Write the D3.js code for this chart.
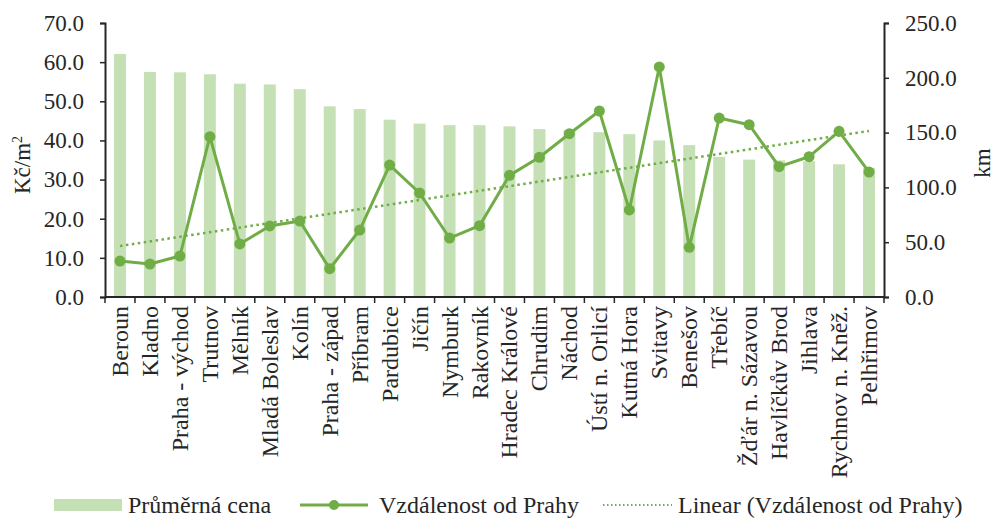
<!DOCTYPE html>
<html>
<head>
<meta charset="utf-8">
<script src="https://cdn.jsdelivr.net/npm/d3@7"></script>
<style>
  body { margin: 0; background: #fff; }
  text { font-family: "Liberation Serif", "Times New Roman", serif; fill: #262626; }
</style>
</head>
<body>
<div id="chart"></div>
<script>
var districts = ["Beroun", "Kladno", "Praha - východ", "Trutnov", "Mělník", "Mladá Boleslav",
  "Kolín", "Praha - západ", "Příbram", "Pardubice", "Jičín", "Nymburk", "Rakovník",
  "Hradec Králové", "Chrudim", "Náchod", "Ústí n. Orlicí", "Kutná Hora", "Svitavy",
  "Benešov", "Třebíč", "Žďár n. Sázavou", "Havlíčkův Brod", "Jihlava",
  "Rychnov n. Kněž.", "Pelhřimov"];

// Průměrná cena (Kč/m2)
var price = [62.1, 57.5, 57.4, 56.9, 54.5, 54.3, 53.1, 48.7, 48.0, 45.3, 44.3, 43.9, 43.9,
  43.6, 42.9, 42.6, 42.1, 41.6, 40.0, 38.8, 35.8, 35.1, 34.9, 34.7, 33.9, 33.0];

// Vzdálenost od Prahy (km)
var distance = [32.8, 30.1, 37.4, 146.3, 48.4, 64.8, 69.3, 25.8, 61.1, 120.4, 94.9, 53.8, 65.1,
  111.0, 127.5, 149.0, 169.7, 79.4, 209.9, 45.3, 163.3, 157.2, 118.9, 128.0, 151.2, 114.0];

var leftTicks = [0, 10, 20, 30, 40, 50, 60, 70];
var rightTicks = [0, 50, 100, 150, 200, 250];

var width = 994, height = 518;
var margin = {top: 23, right: 110, bottom: 221, left: 105};
var innerW = width - margin.left - margin.right,
    innerH = height - margin.top - margin.bottom;
var green = "#70ad47", lightGreen = "#c5e0b4", axisColor = "#262626";

var svg = d3.select("#chart").append("svg")
    .attr("width", width)
    .attr("height", height);

var g = svg.append("g")
    .attr("transform", "translate(" + margin.left + "," + margin.top + ")");

var x = d3.scaleBand().domain(districts).range([0, innerW]).paddingInner(0.6).paddingOuter(0.3);
var xc = function(d) { return x(d) + x.bandwidth() / 2; };
var yL = d3.scaleLinear().domain([0, 70]).range([innerH, 0]);
var yR = d3.scaleLinear().domain([0, 250]).range([innerH, 0]);

// bars
g.selectAll("rect.bar")
    .data(districts)
  .enter().append("rect")
    .attr("class", "bar")
    .attr("x", function(d) { return x(d); })
    .attr("width", x.bandwidth())
    .attr("y", function(d, i) { return yL(price[i]); })
    .attr("height", function(d, i) { return innerH - yL(price[i]); })
    .attr("fill", lightGreen);

// linear trend of distance
var n = distance.length;
var mx = d3.mean(d3.range(n)), my = d3.mean(distance);
var sxy = d3.sum(distance, function(v, i) { return (i - mx) * (v - my); });
var sxx = d3.sum(d3.range(n), function(i) { return (i - mx) * (i - mx); });
var slope = sxy / sxx, icpt = my - slope * mx;

g.append("line")
    .attr("x1", xc(districts[0]))
    .attr("x2", xc(districts[n - 1]))
    .attr("y1", yR(icpt))
    .attr("y2", yR(icpt + slope * (n - 1)))
    .attr("stroke", green)
    .attr("stroke-width", 2.5)
    .attr("stroke-dasharray", "2.5,3.5");

// distance line
var line = d3.line()
    .x(function(d, i) { return xc(districts[i]); })
    .y(function(d) { return yR(d); });

g.append("path")
    .datum(distance)
    .attr("fill", "none")
    .attr("stroke", green)
    .attr("stroke-width", 3)
    .attr("stroke-linejoin", "round")
    .attr("d", line);

g.selectAll("circle.pt")
    .data(distance)
  .enter().append("circle")
    .attr("class", "pt")
    .attr("cx", function(d, i) { return xc(districts[i]); })
    .attr("cy", function(d) { return yR(d); })
    .attr("r", 5.5)
    .attr("fill", green);

// axes
var axL = g.append("g")
    .call(d3.axisLeft(yL).tickValues(leftTicks).tickFormat(d3.format(".1f")).tickSize(5).tickPadding(16));
var axR = g.append("g")
    .attr("transform", "translate(" + innerW + ",0)")
    .call(d3.axisRight(yR).tickValues(rightTicks).tickFormat(d3.format(".1f")).tickSize(5).tickPadding(16));

var axB = g.append("g")
    .attr("transform", "translate(0," + innerH + ")");
axB.append("line")
    .attr("x1", 0).attr("x2", innerW)
    .attr("stroke", axisColor).attr("stroke-width", 2);
axB.selectAll("line.tk")
    .data(d3.range(n + 1))
  .enter().append("line")
    .attr("class", "tk")
    .attr("x1", function(i) { return i * x.step(); })
    .attr("x2", function(i) { return i * x.step(); })
    .attr("y1", 0).attr("y2", 6)
    .attr("stroke", axisColor).attr("stroke-width", 1.5);
axB.selectAll("text")
    .data(districts)
  .enter().append("text")
    .attr("transform", function(d) { return "translate(" + (xc(d) + 8) + ",9) rotate(-90)"; })
    .attr("text-anchor", "end")
    .style("font-size", "24px")
    .text(function(d) { return d; });

[axL, axR].forEach(function(a) {
  a.select(".domain").attr("stroke", axisColor).attr("stroke-width", 2);
  a.selectAll(".tick line").attr("stroke", axisColor).attr("stroke-width", 1.5);
  a.selectAll(".tick text").style("font-size", "23px")
      .style("font-family", "Liberation Serif, serif").attr("fill", axisColor);
});

// axis titles
var tl = svg.append("text")
    .attr("transform", "translate(30," + (margin.top + innerH / 2 + 5) + ") rotate(-90)")
    .attr("text-anchor", "middle")
    .style("font-size", "23px");
tl.append("tspan").text("Kč/m");
tl.append("tspan").attr("dy", -8).style("font-size", "14px").text("2");

svg.append("text")
    .attr("transform", "translate(990," + (margin.top + innerH / 2 + 3) + ") rotate(-90)")
    .attr("text-anchor", "middle")
    .style("font-size", "23px")
    .text("km");

// legend
var lg = svg.append("g").attr("transform", "translate(0,505)");
lg.append("rect").attr("x", 54).attr("y", -6).attr("width", 68).attr("height", 12).attr("fill", lightGreen);
lg.append("text").attr("x", 128).attr("y", 8).style("font-size", "24px").text("Průměrná cena");
lg.append("line").attr("x1", 300).attr("x2", 368).attr("stroke", green).attr("stroke-width", 3);
lg.append("circle").attr("cx", 334).attr("r", 5).attr("fill", green);
lg.append("text").attr("x", 379).attr("y", 8).style("font-size", "24px").text("Vzdálenost od Prahy");
lg.append("line").attr("x1", 603).attr("x2", 672).attr("stroke", green).attr("stroke-width", 2)
    .attr("stroke-dasharray", "1.5,2.5");
lg.append("text").attr("x", 678).attr("y", 8).style("font-size", "24px").text("Linear (Vzdálenost od Prahy)");
</script>
</body>
</html>
